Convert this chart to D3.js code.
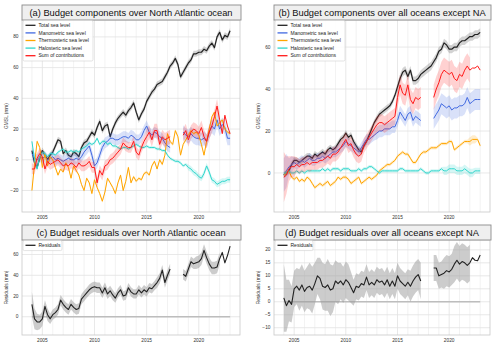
<!DOCTYPE html>
<html>
<head>
<meta charset="utf-8">
<script src="https://cdn.jsdelivr.net/npm/d3@7"></script>
<style>
body { margin: 0; background: #fff; }
svg text { font-family: "Liberation Sans", Arial, sans-serif; }
</style>
</head>
<body>
<svg id="fig" width="500" height="348"></svg>
<script>
// quarterly samples, 2004.00 .. 2023.00
const t0 = 2004, dt = 0.25

const seriesNames = ["Total sea level", "Manometric sea level", "Thermosteric sea level", "Halosteric sea level", "Sum of contributions"]
const seriesColors = ["#222222", "#4169e1", "#ffa500", "#2fd6cc", "#ff1a1a"]

// (a) North Atlantic
const totalA = [6,-2,-5,1, 6,3,0,3, 5,9,13,12, 4,6,3,2, 5,4,2,8, 11,12,15,18, 16,21,25,19, 22,23,15,20,
  24,27,29,31, 29,32,34,37, 31,26,30,33, 38,41,44,46, 49,50,51,54, 57,61,63,66, 62,54,57,60,
  63,65,69,69, 70,70,72,71, 74,76,73,80, 83,78,81,80, 84]
const manoA = [4,1,0,2, 1,2,0,1, 2,0,1,0, -1,0,1,0, 0,1,0,2, 5,7,9,3, -4,-2,3,8, 11,12,14,14,
  13,13,14,15, 15,14,16,15, 13,13,15,19, 22,18,16,18, 17,15,14,11, 9,8,null,null, null,null,18,16,
  15,17,15,14, 14,13,14,12, 18,22,20,26, 20,23,21,14, 14]
const thermoA = [-20,-3,12,8, -5,4,-4,2, 0,-5,-10,-6, -8,-2,-5,-12, -4,-7,-10,-16, -20,-12,-15,-22,
  -13,-18,-22,-27, -21,-12,-15,-18, -22,-15,-10,-20, -14,-5,-15,-11, -14,-12,-13,-9, -8,-10,-4,-1,
  -6,0,-3,3, 17,12,10,19, 15,3,10,13, 16,19,17,18, 16,10,3,12, 20,28,31,22, 24,26,20,18, 17]
const haloA = [12,0,-6,2, 5,4,2,4, 4,3,5,6, 7,5,5,6, 5,6,5,7, 8,9,11,10, 11,14,10,12, 12,10,11,9,
  9,8,7,8, 8,7,8,9, 10,9,8,8, 9,8,8,8, 7,7,6,6, 3,1,0,-1, -1,-2,-4,-3, -5,-6,-8,-9,
  -11,-12,-9,-4, -8,-13,-14,-16, -15,-14,-14,-13, -13]
const sumA = [-6,-6,1,4, 2,-6,-1,-3, -2,-1,0,-2, -4,-3,-4,-2, -3,-5,-2,-4, -4,-3,-1,-5, -5,-15,-7,-10,
  -4,-3,0,1, 3,5,7,11, 9,8,8,12, 5,3,8,12, 15,18,13,19, 19,10,15,13, 14,15,null,null,
  null,null,16,19, 13,18,20,19, 17,21,15,12, 18,22,28,35, 26,17,29,22, 17]

// (b) all oceans except NA
const totalB = [-1,0,1,4, 6,6,5,6, 7,8,8,7, 9,8,9,10, 9,11,12,11, 12,14,16,17, 19,17,18,15, 13,11,10,13,
  15,18,21,24, 26,28,29,30, 31,32,34,37, 41,45,48,49, 46,49,44,44, 45,47,48,49, 50,51,53,55,
  58,59,62,61, 59,59,60,60, 62,63,63,64, 65,65,66,66, 67]
const manoB = [-1,1,3,4, 5,4,5,6, 5,6,7,6, 6,7,7,8, 7,8,9,10, 10,11,12,13, 15,14,13,12, 11,10,12,14,
  16,16,17,18, 19,20,20,21, 21,21,22,22, 25,29,27,25, 28,29,25,27, 26,25,null,null, null,null,26,28,
  30,33,32,31, 32,30,31,31, 32,32,33,36, 33,34,35,35, 35]
const thermoB = [-1,0,1,-2, -3,-2,-4,-3, -4,-2,-3,-5, -7,-6,-5,-6, -5,-4,-6,-5, -4,-2,-3,-2, -2,-3,-5,-4,
  -3,-2,-5,-4, -3,-2,-3,-2, -1,1,2,3, 4,4,5,6, 8,9,10,9, 9,7,5,5, 7,9,10,10, 11,12,12,12,
  13,14,14,14, 15,15,11,12, 13,14,15,15, 15,16,16,16, 13]
const haloB = [0,0,1,0, 0,1,0,1, 0,1,1,1, 1,1,1,2, 1,2,1,2, 2,2,1,2, 2,2,1,1, 1,2,1,2, 2,3,3,2,
  1,0,1,1, 1,1,1,1, 1,2,2,1, 1,1,1,1, 1,2,1,0, 0,1,1,1, 1,2,1,1, 2,2,2,1, 1,1,2,1, 0,0,1,1, 1]
const sumB = [-2,-1,2,3, 3,4,3,4, 4,5,4,5, 5,5,6,6, 7,8,7,9, 9,10,12,14, 16,13,14,11, 9,8,9,13,
  15,17,19,21, 23,24,24,23, 24,25,26,27, 36,42,38,37, 42,35,33,36, 35,36,null,null, null,null,36,40,
  43,47,49,48, 47,48,45,44, 47,46,49,51, 49,50,50,51, 49]

// uncertainty half-widths, step changes: [from year, half-width]
const errTotalA = [[2004, 2]]
const errManoA = [[2004, 3.5], [2018, 4.5]]
const errThermoA = [[2004, 1]]
const errHaloA = [[2004, 1], [2019, 2]]
const errSumA = [[2004, 3.5], [2015, 4.5], [2022.01, 0]]
const errTotalB = [[2004, 1.5], [2015, 2]]
const errManoB = [[2004, 8], [2004.5, 4], [2005, 2.5], [2013, 3], [2018, 5]]
const errThermoB = [[2004, 0.8], [2021.9, 2], [2022.7, 0.8]]
const errHaloB = [[2004, 0.8], [2019.5, 2], [2022.5, 1.5]]
const errSumB = [[2004, 12], [2004.25, 9], [2004.5, 6], [2004.75, 5], [2005.25, 3.5], [2013, 4], [2015, 5], [2018, 6], [2022.01, 0]]

// (c), (d) residuals
const resC = [12,-2,-5,-5, -2,10,2,-2, 2,4,7,16, 12,9,7,12, 9,7,8,17, 20,23,26,28, 29,28,28,23,
  28,22,25,21, 18,23,26,20, 21,28,24,22, 22,26,23,26, 24,28,27,30, 33,37,45,33, 40,46,null,null,
  null,null,41,39, 46,53,51,52, 53,56,64,57, 51,47,47,48, 56,62,52,59, 68]
const resCErr = [12,10,8,7, 7,6,6,5, 5,5,5,5, 5,5,5,5, 5,5,5,5, 5,5,5,5, 5,5,5,5, 5,5,5,5,
  4.5,4.5,4.5,4.5, 4.5,4.5,4.5,4.5, 4.5,4.5,4.5,4.5, 4.5,4.5,4.5,4.5, 5,5,5,5, 5,5,null,null,
  null,null,5,5, 5,5,5,6, 6,6,6,6, 6,6,6,6, 6,null,null,null, null]
const resD = [1.5,-1.5,0.5,-1, 5,6,4.5,6.5, 4,5.5,6,4.5, 7,10,9,6, 5.5,6.5,4.5,5, 8,7,8,6.5,
  8.5,7.5,5.5,3.5, 6,5.5,7,6.5, 9.5,6.5,7.5,6.5, 8.5,7.5,8,6.5, 8.5,6,8,6, 10,8,7,6,
  7.5,6,8,9.5, 10.5,8,null,null, null,null,13,13, 10,10.5,11,12, 11.5,12.5,14.5,16,
  14.5,15.5,15,14, 15,17,16,15.8, 18]
const resDErr = [13,10,8,7, 7,7,8,8, 8,8,9,9, 8,7,8,9, 9,10,10,9, 8,8,7,7, 7,7,6,5,
  5,5,5,5, 5,5,5,5, 5,5,5,5, 5,5,5,5, 5,5,5,5, 5,6,6,6, 6,7,null,null,
  null,null,5,5, 5,5,6,6, 6,6,7,7, 7,7,7,7, 7,null,null,null, null]

const yTicksA = [-20, 0, 20, 40, 60, 80]
const yTicksB = [0, 20, 40, 60]
const yTicksC = [0, 20, 40, 60]
const yTicksD = [-10, -5, 0, 5, 10, 15, 20]
const xTicks = [2005, 2010, 2015, 2020]

const svg = d3.select("#fig")
const font = '"Liberation Sans", Arial, sans-serif'

function stepErr(eras, t) {
    let w = 0
    for (const [start, hw] of eras) if (t >= start - 1e-9) w = hw
    return w
}

function toPoints(values, errs) {
    return values.map((v, i) => {
        const t = t0 + i * dt
        let e = null
        if (Array.isArray(errs)) e = Array.isArray(errs[0]) ? stepErr(errs, t) : errs[i]
        return {t: t, v: v, e: e}
    })
}

function drawPanel(p) {
    const x = d3.scaleLinear().domain([2003.05, 2023.95]).range([p.left, p.right])
    const y = d3.scaleLinear().domain(p.ydom).range([p.bottom, p.top])
    const g = svg.append("g")

    // grid: yearly minor, ticks major
    g.selectAll(".minor").data(d3.range(2004, 2024)).join("line")
        .attr("x1", d => x(d)).attr("x2", d => x(d))
        .attr("y1", p.top).attr("y2", p.bottom)
        .attr("stroke", d => xTicks.includes(d) ? "#dedede" : "#ececec").attr("stroke-width", 0.7)
    g.selectAll(".major").data(p.yticks).join("line")
        .attr("x1", p.left).attr("x2", p.right)
        .attr("y1", d => y(d)).attr("y2", d => y(d))
        .attr("stroke", "#e2e2e2").attr("stroke-width", 0.8)

    const clipId = "clip-" + p.id
    svg.append("clipPath").attr("id", clipId).append("rect")
        .attr("x", p.left).attr("y", p.top).attr("width", p.right - p.left).attr("height", p.bottom - p.top)
    const plot = g.append("g").attr("clip-path", `url(#${clipId})`)

    if (p.zero) {
        plot.append("line")
            .attr("x1", x(2004)).attr("x2", x(2023)).attr("y1", y(0)).attr("y2", y(0))
            .attr("stroke", "#bdbdbd").attr("stroke-width", 1.4)
    }

    const area = d3.area()
        .defined(d => d.v != null && d.e != null && d.e > 0)
        .x(d => x(d.t)).y0(d => y(d.v - d.e)).y1(d => y(d.v + d.e))
    const line = d3.line().defined(d => d.v != null).x(d => x(d.t)).y(d => y(d.v))

    for (const s of p.series) {
        const pts = toPoints(s.values, s.err)
        plot.append("path").attr("d", area(pts))
            .attr("fill", s.band).attr("fill-opacity", s.bandOpacity)
        plot.append("path").attr("d", line(pts))
            .attr("fill", "none").attr("stroke", s.color).attr("stroke-width", s.width)
            .attr("stroke-linejoin", "round")
    }

    // frame
    g.append("rect").attr("x", p.left).attr("y", p.top)
        .attr("width", p.right - p.left).attr("height", p.bottom - p.top)
        .attr("fill", "none").attr("stroke", "#c8c8c8").attr("stroke-width", 0.8)

    // tick labels
    g.selectAll(".yt").data(p.yticks).join("text")
        .attr("x", p.left - 3.5).attr("y", d => y(d) + 1.6)
        .attr("text-anchor", "end").attr("font-size", 4.8).attr("fill", "#333")
        .text(d => d < 0 ? "\u2212" + Math.abs(d) : d)
    g.selectAll(".xt").data(xTicks).join("text")
        .attr("x", d => x(d)).attr("y", p.bottom + 7)
        .attr("text-anchor", "middle").attr("font-size", 4.8).attr("fill", "#333")
        .text(d => d)

    // y label
    g.append("text")
        .attr("transform", `translate(${p.left - 14},${(p.top + p.bottom) / 2}) rotate(-90)`)
        .attr("text-anchor", "middle").attr("font-size", 4.8).attr("fill", "#333")
        .text(p.ylabel)

    // title box
    g.append("rect").attr("x", p.left).attr("y", p.top - 15)
        .attr("width", p.right - p.left + 1).attr("height", 15)
        .attr("fill", "#efefef").attr("stroke", "#8c8c8c").attr("stroke-width", 0.9)
    g.append("text").attr("x", (p.left + p.right) / 2).attr("y", p.top - 4.2)
        .attr("text-anchor", "middle").attr("font-size", 9.3).attr("fill", "#111")
        .text(p.title)

    // legend
    const lg = g.append("g").attr("transform", `translate(${p.left + 1},${p.top + 0.5})`)
    const rowH = 7.6
    lg.append("rect").attr("x", 0).attr("y", 0)
        .attr("width", p.legendW).attr("height", p.series.length * rowH + 2.5).attr("rx", 1.5)
        .attr("fill", "#fff").attr("fill-opacity", 0.85).attr("stroke", "#d0d0d0").attr("stroke-width", 0.6)
    p.series.forEach((s, i) => {
        const yy = 4.8 + i * rowH
        lg.append("line").attr("x1", 2.5).attr("x2", 12.5).attr("y1", yy).attr("y2", yy)
            .attr("stroke", s.color).attr("stroke-width", 1.3)
        lg.append("text").attr("x", 15.5).attr("y", yy + 1.7)
            .attr("font-size", 5).attr("fill", "#222").text(s.name)
    })
}

function comp(names, vals, errs, widths) {
    return vals.map((v, i) => ({
        name: names[i], values: v, err: errs[i], color: seriesColors[i],
        band: i === 0 ? "#777" : seriesColors[i], bandOpacity: i === 0 ? 0.32 : 0.2,
        width: i === 0 ? 1.2 : 1.0
    }))
}

drawPanel({
    id: "a", left: 22, right: 240, top: 20, bottom: 212, ydom: [-34, 91], yticks: yTicksA,
    title: "(a) Budget components over North Atlantic ocean", ylabel: "GMSL (mm)", legendW: 70,
    series: comp(seriesNames, [totalA, manoA, thermoA, haloA, sumA], [errTotalA, errManoA, errThermoA, errHaloA, errSumA])
})
drawPanel({
    id: "b", left: 274, right: 490, top: 20, bottom: 212, ydom: [-18.6, 72.9], yticks: yTicksB,
    title: "(b) Budget components over all oceans except NA", ylabel: "GMSL (mm)", legendW: 70,
    series: comp(seriesNames, [totalB, manoB, thermoB, haloB, sumB], [errTotalB, errManoB, errThermoB, errHaloB, errSumB])
})
const resSeries = (vals, errs) => [{name: "Residuals", values: vals, err: errs, color: "#222",
    band: "#9a9a9a", bandOpacity: 0.5, width: 1.1}]
drawPanel({
    id: "c", left: 22, right: 240, top: 240, bottom: 335, ydom: [-17.6, 74], yticks: yTicksC, zero: true,
    title: "(c) Budget residuals over North Atlantic ocean", ylabel: "Residuals (mm)", legendW: 39,
    series: resSeries(resC, resCErr)
})
drawPanel({
    id: "d", left: 274, right: 490, top: 240, bottom: 335, ydom: [-12.8, 23.8], yticks: yTicksD, zero: true,
    title: "(d) Budget residuals over all oceans except NA", ylabel: "Residuals (mm)", legendW: 38,
    series: resSeries(resD, resDErr)
})
</script>
</body>
</html>
